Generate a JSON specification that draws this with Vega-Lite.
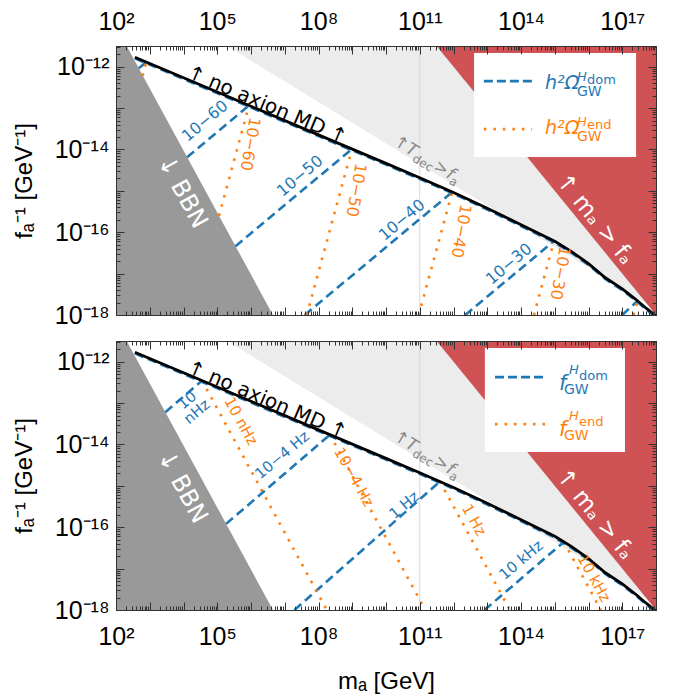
{
"$schema":"https://vega.github.io/schema/vega-lite/v6.json",
"padding":{"left":11,"top":4,"right":5,"bottom":5},
"spacing":0,
"config":{"view":{"stroke":"#333","strokeWidth":1},
"axis":{"domainColor":"#333","tickColor":"#333","tickWidth":1,"labelFont":"Liberation Sans Narrow, Liberation Sans","labelFontSize":25,"labelColor":"black","titleFont":"Liberation Sans","titleFontSize":24,"titleFontWeight":"normal","titleColor":"black","grid":false,"minExtent":0},
"text":{"font":"DejaVu Sans"}},
"datasets":{
"bbn":[{"m":100,"f":9.44e-12},{"m":4.467e6,"f":1e-18}],
"tdec":[{"m":1.95e5,"f":3.1623e-12},{"m":1e18,"f":1.396e-18}],
"mafa":[{"m":3.1623e11,"f":3.1623e-12},{"m":1e18,"f":1e-18}],
"vline":[{"m":1e11}],
"md":[{"m":363.1,"f":1.698e-12},{"m":1e4,"f":5.41e-13},{"m":1e6,"f":1.104e-13},{"m":1e8,"f":2.254e-14},{"m":1e10,"f":4.603e-15},{"m":1e11,"f":2.08e-15},{"m":1e12,"f":9.12e-16},{"m":1e13,"f":3.8e-16},{"m":1e14,"f":1.514e-16},{"m":1e15,"f":6.03e-17},{"m":3.162e15,"f":3.39e-17},{"m":1e16,"f":1.738e-17},{"m":3.162e16,"f":7.94e-18},{"m":1e17,"f":4.27e-18},{"m":2.512e17,"f":2.4e-18},{"m":5.012e17,"f":1.479e-18},{"m":7.943e17,"f":1.096e-18},{"m":1e18,"f":9.33e-19}],
"fringe":[{"m":363.1,"f":1.584e-12},{"m":1e4,"f":5.05e-13},{"m":1e6,"f":1.03e-13},{"m":1e8,"f":2.103e-14},{"m":1e10,"f":4.295e-15},{"m":1e11,"f":1.941e-15},{"m":1e12,"f":8.51e-16},{"m":1e13,"f":3.545e-16},{"m":1e14,"f":1.413e-16},{"m":1e15,"f":5.63e-17},{"m":3.162e15,"f":3.163e-17},{"m":1e16,"f":1.622e-17},{"m":3.162e16,"f":7.41e-18},{"m":1e17,"f":3.98e-18},{"m":2.512e17,"f":2.24e-18},{"m":5.012e17,"f":1.38e-18},{"m":7.943e17,"f":1.023e-18}],
"cont":[
{"p":"O","k":"dom","c":"a","m":474.2,"f":9.12e-13},{"p":"O","k":"dom","c":"a","m":794.3,"f":1.297e-12},
{"p":"O","k":"end","c":"a","m":616.6,"f":6.03e-13},{"p":"O","k":"end","c":"a","m":794.3,"f":1.297e-12},
{"p":"O","k":"dom","c":"b","m":1.279e4,"f":6.5e-15},{"p":"O","k":"dom","c":"b","m":8.71e5,"f":1.148e-13},
{"p":"O","k":"end","c":"b","m":1.127e5,"f":2.49e-16},{"p":"O","k":"end","c":"b","m":8.71e5,"f":1.148e-13},
{"p":"O","k":"dom","c":"c","m":3.467e5,"f":4.61e-17},{"p":"O","k":"dom","c":"c","m":9.772e8,"f":1.023e-14},
{"p":"O","k":"end","c":"c","m":4.498e7,"f":1e-18},{"p":"O","k":"end","c":"c","m":9.772e8,"f":1.023e-14},
{"p":"O","k":"dom","c":"d","m":3.908e7,"f":1e-18},{"p":"O","k":"dom","c":"d","m":9.12e11,"f":9.33e-16},
{"p":"O","k":"end","c":"d","m":9.33e10,"f":1e-18},{"p":"O","k":"end","c":"d","m":9.12e11,"f":9.33e-16},
{"p":"O","k":"dom","c":"e","m":2.228e12,"f":1e-18},{"p":"O","k":"dom","c":"e","m":9.55e14,"f":6.17e-17},
{"p":"O","k":"end","c":"e","m":2.415e14,"f":1e-18},{"p":"O","k":"end","c":"e","m":9.55e14,"f":6.17e-17},
{"p":"O","k":"dom","c":"f","m":1e17,"f":1e-18},{"p":"O","k":"dom","c":"f","m":2.818e17,"f":2.188e-18},
{"p":"O","k":"end","c":"f","m":2.173e17,"f":1e-18},{"p":"O","k":"end","c":"f","m":2.818e17,"f":2.188e-18},
{"p":"F","k":"dom","c":"a","m":2897,"f":6.04e-14},{"p":"F","k":"dom","c":"a","m":3.548e4,"f":3.49e-13},
{"p":"F","k":"end","c":"a","m":3.548e4,"f":3.49e-13},{"p":"F","k":"end","c":"a","m":1.758e8,"f":1e-18},
{"p":"F","k":"dom","c":"b","m":1.828e5,"f":1.205e-16},{"p":"F","k":"dom","c":"b","m":2.188e8,"f":1.722e-14},
{"p":"F","k":"end","c":"b","m":2.188e8,"f":1.722e-14},{"p":"F","k":"end","c":"b","m":1.459e11,"f":1e-18},
{"p":"F","k":"dom","c":"c","m":1.94e7,"f":1e-18},{"p":"F","k":"dom","c":"c","m":3.981e11,"f":1.274e-15},
{"p":"F","k":"end","c":"c","m":3.981e11,"f":1.274e-15},{"p":"F","k":"end","c":"c","m":4.677e13,"f":1e-18},
{"p":"F","k":"dom","c":"d","m":8.318e12,"f":1e-18},{"p":"F","k":"dom","c":"d","m":1.862e15,"f":4.42e-17},
{"p":"F","k":"end","c":"d","m":1.862e15,"f":4.42e-17},{"p":"F","k":"end","c":"d","m":2.328e16,"f":1e-18}],
"lab":[
{"role":"bO","m":4.335e4,"f":4.853e-14,"t":"10−60"},
{"role":"bO","m":2.831e7,"f":2.275e-15,"t":"10−50"},
{"role":"bO","m":2.979e10,"f":1.972e-16,"t":"10−40"},
{"role":"bO","m":4.406e13,"f":1.706e-17,"t":"10−30"},
{"role":"oO","m":9.333e5,"f":1.349e-14,"t":"10−60"},
{"role":"oO","m":1.291e9,"f":1.045e-15,"t":"10−50"},
{"role":"oO","m":1.667e12,"f":1.069e-16,"t":"10−40"},
{"role":"oO","m":1.432e15,"f":1.033e-17,"t":"10−30"},
{"role":"bF","m":1.27e4,"f":1.18e-13,"t":"10\nnHz"},
{"role":"oF","m":5.058e5,"f":3.673e-14,"t":"10 nHz"},
{"role":"bF","m":8.299e6,"f":5.546e-15,"t":"10−4 Hz"},
{"role":"oF","m":1.127e9,"f":1.633e-15,"t":"10−4 Hz"},
{"role":"bF","m":3.412e10,"f":3.436e-16,"t":"1 Hz"},
{"role":"oF","m":4.046e12,"f":1.493e-16,"t":"1 Hz"},
{"role":"bF","m":1e14,"f":1.614e-17,"t":"10 kHz"},
{"role":"oF","m":1.455e16,"f":5.93e-18,"t":"10 kHz"}],
"ann":[
{"role":"md","m":2.979e6,"f":1.175e-13,"t":"↑ no axion MD ↑"},
{"role":"bbn","m":9036,"f":9.35e-16,"t":"↓ BBN"},
{"role":"mafa","m":1.56e16,"f":2.084e-16,"t":"↑ mₐ > fₐ"},
{"role":"td","m":1.849e10,"f":1.687e-14,"t1":"↑T","t2":"dec","t3":">","t4":"f","t5":"a"}],
"legbox":[{"p":"O","m":4.074e12,"m2":2.57e17,"f":2.138e-12,"f2":6.607e-15},{"p":"F","m":8.511e12,"m2":1.202e17,"f":2.133e-12,"f2":6.546e-15}],
"legline":[{"p":"O","k":"dom","m":7.943e12,"f":4.467e-13},{"p":"O","k":"dom","m":2.138e14,"f":4.467e-13},{"p":"O","k":"end","m":7.943e12,"f":3.112e-14},{"p":"O","k":"end","m":2.138e14,"f":3.112e-14},{"p":"F","k":"dom","m":1.698e13,"f":4.246e-13},{"p":"F","k":"dom","m":5.129e14,"f":4.246e-13},{"p":"F","k":"end","m":1.698e13,"f":3.112e-14},{"p":"F","k":"end","m":5.129e14,"f":3.112e-14}],
"legtext":[{"p":"O","k":"dom","m":5.14e14,"f":2.877e-13,"a":"h²Ω","b":"H","c":"dom","d":"GW"},{"p":"O","k":"end","m":5.14e14,"f":2.355e-14,"a":"h²Ω","b":"H","c":"end","d":"GW"},{"p":"F","k":"dom","m":1.337e15,"f":2.061e-13,"a":"f","b":"H","c":"dom","d":"GW"},{"p":"F","k":"end","m":1.337e15,"f":1.596e-14,"a":"f","b":"H","c":"end","d":"GW"}]
},
"vconcat":[
{"width":540,"height":269,
"resolve":{"axis":{"x":"independent","y":"independent"}},
"layer":[
{"data":{"name":"tdec"},"mark":{"type":"area","color":"#ececec","clip":true},
"encoding":{"x":{"field":"m","type":"quantitative","scale":{"type":"log","domain":[100,1e18],"nice":false},"axis":{"orient":"top","zindex":1,"tickCount":50,"labelExpr":"datum.value == 100 ? '10²' : datum.value == 1e5 ? '10⁵' : datum.value == 1e8 ? '10⁸' : datum.value == 1e11 ? '10¹¹' : datum.value == 1e14 ? '10¹⁴' : datum.value == 1e17 ? '10¹⁷' : ''","labelOverlap":false,"labelFlush":false,"tickSize":{"condition":{"test":"abs(log(datum.value)/LN10 - round(log(datum.value)/LN10)) < 1e-6","value":-8},"value":-4},"labelPadding":20,"title":null}},
"y":{"field":"f","type":"quantitative","scale":{"type":"log","domain":[1e-18,3.1623e-12],"nice":false},"axis":{"orient":"left","zindex":1,"tickCount":50,"labelExpr":"abs(datum.value/1e-12-1) < 1e-6 ? '10⁻¹²' : abs(datum.value/1e-14-1) < 1e-6 ? '10⁻¹⁴' : abs(datum.value/1e-16-1) < 1e-6 ? '10⁻¹⁶' : abs(datum.value/1e-18-1) < 1e-6 ? '10⁻¹⁸' : ''","labelOverlap":false,"tickSize":{"condition":{"test":"abs(log(datum.value)/LN10 - round(log(datum.value)/LN10)) < 1e-6","value":-8},"value":-4},"labelPadding":15,"title":"fₐ⁻¹ [GeV⁻¹]","titlePadding":18}},
"y2":{"datum":3.1623e-12}}},
{"data":{"name":"mafa"},"mark":{"type":"area","color":"#cf5355","clip":true},
"encoding":{"x":{"field":"m","type":"quantitative","scale":{"type":"log","domain":[100,1e18],"nice":false},"axis":{"orient":"bottom","zindex":1,"tickCount":50,"labels":false,"tickSize":{"condition":{"test":"abs(log(datum.value)/LN10 - round(log(datum.value)/LN10)) < 1e-6","value":-8},"value":-4},"title":null}},
"y":{"field":"f","type":"quantitative","scale":{"type":"log","domain":[1e-18,3.1623e-12],"nice":false},"axis":{"orient":"right","zindex":1,"tickCount":50,"labels":false,"tickSize":{"condition":{"test":"abs(log(datum.value)/LN10 - round(log(datum.value)/LN10)) < 1e-6","value":-8},"value":-4},"title":null}},
"y2":{"datum":3.1623e-12}}},
{"data":{"name":"bbn"},"mark":{"type":"area","color":"#999999","clip":true},
"encoding":{"x":{"field":"m","type":"quantitative","scale":{"type":"log","domain":[100,1e18],"nice":false},"axis":null},"y":{"field":"f","type":"quantitative","scale":{"type":"log","domain":[1e-18,3.1623e-12],"nice":false},"axis":null},"y2":{"datum":1e-18}}},
{"data":{"name":"vline"},"mark":{"type":"rule","color":"#d8d8d8","strokeWidth":1},
"encoding":{"x":{"field":"m","type":"quantitative","scale":{"type":"log","domain":[100,1e18],"nice":false},"axis":null},"y":{"datum":1e-18,"type":"quantitative","scale":{"type":"log","domain":[1e-18,3.1623e-12],"nice":false},"axis":null},"y2":{"datum":3.1623e-12}}},
{"data":{"name":"cont"},"transform":[{"filter":"datum.p=='O' && datum.k=='dom'"}],"mark":{"type":"line","color":"#1f77b4","strokeWidth":2.6,"strokeDash":[9,5],"clip":true},
"encoding":{"x":{"field":"m","type":"quantitative","scale":{"type":"log","domain":[100,1e18],"nice":false},"axis":null},"y":{"field":"f","type":"quantitative","scale":{"type":"log","domain":[1e-18,3.1623e-12],"nice":false},"axis":null},"detail":{"field":"c","type":"nominal"}}},
{"data":{"name":"cont"},"transform":[{"filter":"datum.p=='O' && datum.k=='end'"}],"mark":{"type":"line","color":"#ff7f0e","strokeWidth":2.6,"strokeDash":[2.5,7],"clip":true},
"encoding":{"x":{"field":"m","type":"quantitative","scale":{"type":"log","domain":[100,1e18],"nice":false},"axis":null},"y":{"field":"f","type":"quantitative","scale":{"type":"log","domain":[1e-18,3.1623e-12],"nice":false},"axis":null},"detail":{"field":"c","type":"nominal"}}},
{"data":{"name":"fringe"},"mark":{"type":"line","color":"#1f77b4","strokeWidth":2.6,"strokeDash":[9,5],"clip":true},
"encoding":{"x":{"field":"m","type":"quantitative","scale":{"type":"log","domain":[100,1e18],"nice":false},"axis":null},"y":{"field":"f","type":"quantitative","scale":{"type":"log","domain":[1e-18,3.1623e-12],"nice":false},"axis":null}}},
{"data":{"name":"md"},"mark":{"type":"line","color":"black","strokeWidth":2.8,"clip":true},
"encoding":{"x":{"field":"m","type":"quantitative","scale":{"type":"log","domain":[100,1e18],"nice":false},"axis":null},"y":{"field":"f","type":"quantitative","scale":{"type":"log","domain":[1e-18,3.1623e-12],"nice":false},"axis":null}}},
{"data":{"name":"lab"},"transform":[{"filter":"datum.role=='bO'"}],"mark":{"type":"text","color":"#1f77b4","fontSize":16,"angle":320},
"encoding":{"x":{"field":"m","type":"quantitative","scale":{"type":"log","domain":[100,1e18],"nice":false},"axis":null},"y":{"field":"f","type":"quantitative","scale":{"type":"log","domain":[1e-18,3.1623e-12],"nice":false},"axis":null},"text":{"field":"t","type":"nominal"}}},
{"data":{"name":"lab"},"transform":[{"filter":"datum.role=='oO'"}],"mark":{"type":"text","color":"#ff7f0e","fontSize":16,"angle":100},
"encoding":{"x":{"field":"m","type":"quantitative","scale":{"type":"log","domain":[100,1e18],"nice":false},"axis":null},"y":{"field":"f","type":"quantitative","scale":{"type":"log","domain":[1e-18,3.1623e-12],"nice":false},"axis":null},"text":{"field":"t","type":"nominal"}}},
{"data":{"name":"ann"},"transform":[{"filter":"datum.role=='md'"}],"mark":{"type":"text","color":"black","fontSize":20,"angle":23},
"encoding":{"x":{"field":"m","type":"quantitative","scale":{"type":"log","domain":[100,1e18],"nice":false},"axis":null},"y":{"field":"f","type":"quantitative","scale":{"type":"log","domain":[1e-18,3.1623e-12],"nice":false},"axis":null},"text":{"field":"t","type":"nominal"}}},
{"data":{"name":"ann"},"transform":[{"filter":"datum.role=='bbn'"}],"mark":{"type":"text","color":"white","fontSize":24,"angle":61.5},
"encoding":{"x":{"field":"m","type":"quantitative","scale":{"type":"log","domain":[100,1e18],"nice":false},"axis":null},"y":{"field":"f","type":"quantitative","scale":{"type":"log","domain":[1e-18,3.1623e-12],"nice":false},"axis":null},"text":{"field":"t","type":"nominal"}}},
{"data":{"name":"ann"},"transform":[{"filter":"datum.role=='mafa'"}],"mark":{"type":"text","color":"white","fontSize":23,"angle":51},
"encoding":{"x":{"field":"m","type":"quantitative","scale":{"type":"log","domain":[100,1e18],"nice":false},"axis":null},"y":{"field":"f","type":"quantitative","scale":{"type":"log","domain":[1e-18,3.1623e-12],"nice":false},"axis":null},"text":{"field":"t","type":"nominal"}}},
{"data":{"name":"ann"},"transform":[{"filter":"datum.role=='td'"}],"mark":{"type":"text","color":"#888888","fontSize":17,"fontStyle":"italic","angle":31.5,"align":"left","baseline":"middle"},
"encoding":{"x":{"field":"m","type":"quantitative","scale":{"type":"log","domain":[100,1e18],"nice":false},"axis":null},"y":{"field":"f","type":"quantitative","scale":{"type":"log","domain":[1e-18,3.1623e-12],"nice":false},"axis":null},"text":{"field":"t1","type":"nominal"}}},
{"data":{"name":"ann"},"transform":[{"filter":"datum.role=='td'"}],"mark":{"type":"text","color":"#888888","fontSize":12,"angle":31.5,"align":"left","baseline":"middle","dx":25,"dy":5},
"encoding":{"x":{"field":"m","type":"quantitative","scale":{"type":"log","domain":[100,1e18],"nice":false},"axis":null},"y":{"field":"f","type":"quantitative","scale":{"type":"log","domain":[1e-18,3.1623e-12],"nice":false},"axis":null},"text":{"field":"t2","type":"nominal"}}},
{"data":{"name":"ann"},"transform":[{"filter":"datum.role=='td'"}],"mark":{"type":"text","color":"#888888","fontSize":17,"angle":31.5,"align":"left","baseline":"middle","dx":47},
"encoding":{"x":{"field":"m","type":"quantitative","scale":{"type":"log","domain":[100,1e18],"nice":false},"axis":null},"y":{"field":"f","type":"quantitative","scale":{"type":"log","domain":[1e-18,3.1623e-12],"nice":false},"axis":null},"text":{"field":"t3","type":"nominal"}}},
{"data":{"name":"ann"},"transform":[{"filter":"datum.role=='td'"}],"mark":{"type":"text","color":"#888888","fontSize":17,"fontStyle":"italic","angle":31.5,"align":"left","baseline":"middle","dx":62},
"encoding":{"x":{"field":"m","type":"quantitative","scale":{"type":"log","domain":[100,1e18],"nice":false},"axis":null},"y":{"field":"f","type":"quantitative","scale":{"type":"log","domain":[1e-18,3.1623e-12],"nice":false},"axis":null},"text":{"field":"t4","type":"nominal"}}},
{"data":{"name":"ann"},"transform":[{"filter":"datum.role=='td'"}],"mark":{"type":"text","color":"#888888","fontSize":12,"angle":31.5,"align":"left","baseline":"middle","dx":68,"dy":5},
"encoding":{"x":{"field":"m","type":"quantitative","scale":{"type":"log","domain":[100,1e18],"nice":false},"axis":null},"y":{"field":"f","type":"quantitative","scale":{"type":"log","domain":[1e-18,3.1623e-12],"nice":false},"axis":null},"text":{"field":"t5","type":"nominal"}}},
{"data":{"name":"legbox"},"transform":[{"filter":"datum.p=='O'"}],"mark":{"type":"rect","color":"white"},
"encoding":{"x":{"field":"m","type":"quantitative","scale":{"type":"log","domain":[100,1e18],"nice":false},"axis":null},"x2":{"field":"m2"},"y":{"field":"f","type":"quantitative","scale":{"type":"log","domain":[1e-18,3.1623e-12],"nice":false},"axis":null},"y2":{"field":"f2"}}},
{"data":{"name":"legline"},"transform":[{"filter":"datum.p=='O' && datum.k=='dom'"}],"mark":{"type":"line","color":"#1f77b4","strokeWidth":2.8,"strokeDash":[9,4]},
"encoding":{"x":{"field":"m","type":"quantitative","scale":{"type":"log","domain":[100,1e18],"nice":false},"axis":null},"y":{"field":"f","type":"quantitative","scale":{"type":"log","domain":[1e-18,3.1623e-12],"nice":false},"axis":null}}},
{"data":{"name":"legline"},"transform":[{"filter":"datum.p=='O' && datum.k=='end'"}],"mark":{"type":"line","color":"#ff7f0e","strokeWidth":2.8,"strokeDash":[2.5,7]},
"encoding":{"x":{"field":"m","type":"quantitative","scale":{"type":"log","domain":[100,1e18],"nice":false},"axis":null},"y":{"field":"f","type":"quantitative","scale":{"type":"log","domain":[1e-18,3.1623e-12],"nice":false},"axis":null}}},
{"data":{"name":"legtext"},"transform":[{"filter":"datum.p=='O'"}],"mark":{"type":"text","fontSize":19,"fontStyle":"italic","align":"left","baseline":"alphabetic"},
"encoding":{"x":{"field":"m","type":"quantitative","scale":{"type":"log","domain":[100,1e18],"nice":false},"axis":null},"y":{"field":"f","type":"quantitative","scale":{"type":"log","domain":[1e-18,3.1623e-12],"nice":false},"axis":null},"text":{"field":"a","type":"nominal"},"color":{"field":"k","type":"nominal","scale":{"domain":["dom","end"],"range":["#1f77b4","#ff7f0e"]},"legend":null}}},
{"data":{"name":"legtext"},"transform":[{"filter":"datum.p=='O'"}],"mark":{"type":"text","fontSize":13,"fontStyle":"italic","align":"left","baseline":"alphabetic","dx":32,"dy":-8},
"encoding":{"x":{"field":"m","type":"quantitative","scale":{"type":"log","domain":[100,1e18],"nice":false},"axis":null},"y":{"field":"f","type":"quantitative","scale":{"type":"log","domain":[1e-18,3.1623e-12],"nice":false},"axis":null},"text":{"field":"b","type":"nominal"},"color":{"field":"k","type":"nominal","scale":{"domain":["dom","end"],"range":["#1f77b4","#ff7f0e"]},"legend":null}}},
{"data":{"name":"legtext"},"transform":[{"filter":"datum.p=='O'"}],"mark":{"type":"text","fontSize":13,"align":"left","baseline":"alphabetic","dx":42,"dy":-5},
"encoding":{"x":{"field":"m","type":"quantitative","scale":{"type":"log","domain":[100,1e18],"nice":false},"axis":null},"y":{"field":"f","type":"quantitative","scale":{"type":"log","domain":[1e-18,3.1623e-12],"nice":false},"axis":null},"text":{"field":"c","type":"nominal"},"color":{"field":"k","type":"nominal","scale":{"domain":["dom","end"],"range":["#1f77b4","#ff7f0e"]},"legend":null}}},
{"data":{"name":"legtext"},"transform":[{"filter":"datum.p=='O'"}],"mark":{"type":"text","fontSize":14,"align":"left","baseline":"alphabetic","dx":32,"dy":7},
"encoding":{"x":{"field":"m","type":"quantitative","scale":{"type":"log","domain":[100,1e18],"nice":false},"axis":null},"y":{"field":"f","type":"quantitative","scale":{"type":"log","domain":[1e-18,3.1623e-12],"nice":false},"axis":null},"text":{"field":"d","type":"nominal"},"color":{"field":"k","type":"nominal","scale":{"domain":["dom","end"],"range":["#1f77b4","#ff7f0e"]},"legend":null}}}
]},
{"width":540,"height":269,
"resolve":{"axis":{"x":"independent","y":"independent"}},
"layer":[
{"data":{"name":"tdec"},"mark":{"type":"area","color":"#ececec","clip":true},
"encoding":{"x":{"field":"m","type":"quantitative","scale":{"type":"log","domain":[100,1e18],"nice":false},"axis":{"orient":"top","zindex":1,"tickCount":50,"labels":false,"tickSize":{"condition":{"test":"abs(log(datum.value)/LN10 - round(log(datum.value)/LN10)) < 1e-6","value":-8},"value":-4},"title":null}},
"y":{"field":"f","type":"quantitative","scale":{"type":"log","domain":[1e-18,3.1623e-12],"nice":false},"axis":{"orient":"left","zindex":1,"tickCount":50,"labelExpr":"abs(datum.value/1e-12-1) < 1e-6 ? '10⁻¹²' : abs(datum.value/1e-14-1) < 1e-6 ? '10⁻¹⁴' : abs(datum.value/1e-16-1) < 1e-6 ? '10⁻¹⁶' : abs(datum.value/1e-18-1) < 1e-6 ? '10⁻¹⁸' : ''","labelOverlap":false,"tickSize":{"condition":{"test":"abs(log(datum.value)/LN10 - round(log(datum.value)/LN10)) < 1e-6","value":-8},"value":-4},"labelPadding":15,"title":"fₐ⁻¹ [GeV⁻¹]","titlePadding":18}},
"y2":{"datum":3.1623e-12}}},
{"data":{"name":"mafa"},"mark":{"type":"area","color":"#cf5355","clip":true},
"encoding":{"x":{"field":"m","type":"quantitative","scale":{"type":"log","domain":[100,1e18],"nice":false},"axis":{"orient":"bottom","zindex":1,"tickCount":50,"labelExpr":"datum.value == 100 ? '10²' : datum.value == 1e5 ? '10⁵' : datum.value == 1e8 ? '10⁸' : datum.value == 1e11 ? '10¹¹' : datum.value == 1e14 ? '10¹⁴' : datum.value == 1e17 ? '10¹⁷' : ''","labelOverlap":false,"labelFlush":false,"tickSize":{"condition":{"test":"abs(log(datum.value)/LN10 - round(log(datum.value)/LN10)) < 1e-6","value":-8},"value":-4},"labelPadding":22,"title":"mₐ [GeV]","titlePadding":16}},
"y":{"field":"f","type":"quantitative","scale":{"type":"log","domain":[1e-18,3.1623e-12],"nice":false},"axis":{"orient":"right","zindex":1,"tickCount":50,"labels":false,"tickSize":{"condition":{"test":"abs(log(datum.value)/LN10 - round(log(datum.value)/LN10)) < 1e-6","value":-8},"value":-4},"title":null}},
"y2":{"datum":3.1623e-12}}},
{"data":{"name":"bbn"},"mark":{"type":"area","color":"#999999","clip":true},
"encoding":{"x":{"field":"m","type":"quantitative","scale":{"type":"log","domain":[100,1e18],"nice":false},"axis":null},"y":{"field":"f","type":"quantitative","scale":{"type":"log","domain":[1e-18,3.1623e-12],"nice":false},"axis":null},"y2":{"datum":1e-18}}},
{"data":{"name":"vline"},"mark":{"type":"rule","color":"#d8d8d8","strokeWidth":1},
"encoding":{"x":{"field":"m","type":"quantitative","scale":{"type":"log","domain":[100,1e18],"nice":false},"axis":null},"y":{"datum":1e-18,"type":"quantitative","scale":{"type":"log","domain":[1e-18,3.1623e-12],"nice":false},"axis":null},"y2":{"datum":3.1623e-12}}},
{"data":{"name":"cont"},"transform":[{"filter":"datum.p=='F' && datum.k=='dom'"}],"mark":{"type":"line","color":"#1f77b4","strokeWidth":2.6,"strokeDash":[9,5],"clip":true},
"encoding":{"x":{"field":"m","type":"quantitative","scale":{"type":"log","domain":[100,1e18],"nice":false},"axis":null},"y":{"field":"f","type":"quantitative","scale":{"type":"log","domain":[1e-18,3.1623e-12],"nice":false},"axis":null},"detail":{"field":"c","type":"nominal"}}},
{"data":{"name":"cont"},"transform":[{"filter":"datum.p=='F' && datum.k=='end'"}],"mark":{"type":"line","color":"#ff7f0e","strokeWidth":2.6,"strokeDash":[2.5,7],"clip":true},
"encoding":{"x":{"field":"m","type":"quantitative","scale":{"type":"log","domain":[100,1e18],"nice":false},"axis":null},"y":{"field":"f","type":"quantitative","scale":{"type":"log","domain":[1e-18,3.1623e-12],"nice":false},"axis":null},"detail":{"field":"c","type":"nominal"}}},
{"data":{"name":"fringe"},"mark":{"type":"line","color":"#1f77b4","strokeWidth":2.6,"strokeDash":[9,5],"clip":true},
"encoding":{"x":{"field":"m","type":"quantitative","scale":{"type":"log","domain":[100,1e18],"nice":false},"axis":null},"y":{"field":"f","type":"quantitative","scale":{"type":"log","domain":[1e-18,3.1623e-12],"nice":false},"axis":null}}},
{"data":{"name":"md"},"mark":{"type":"line","color":"black","strokeWidth":2.8,"clip":true},
"encoding":{"x":{"field":"m","type":"quantitative","scale":{"type":"log","domain":[100,1e18],"nice":false},"axis":null},"y":{"field":"f","type":"quantitative","scale":{"type":"log","domain":[1e-18,3.1623e-12],"nice":false},"axis":null}}},
{"data":{"name":"lab"},"transform":[{"filter":"datum.role=='bF'"}],"mark":{"type":"text","color":"#1f77b4","fontSize":15,"angle":320,"lineBreak":"\n","lineHeight":15},
"encoding":{"x":{"field":"m","type":"quantitative","scale":{"type":"log","domain":[100,1e18],"nice":false},"axis":null},"y":{"field":"f","type":"quantitative","scale":{"type":"log","domain":[1e-18,3.1623e-12],"nice":false},"axis":null},"text":{"field":"t","type":"nominal"}}},
{"data":{"name":"lab"},"transform":[{"filter":"datum.role=='oF'"}],"mark":{"type":"text","color":"#ff7f0e","fontSize":15,"angle":61},
"encoding":{"x":{"field":"m","type":"quantitative","scale":{"type":"log","domain":[100,1e18],"nice":false},"axis":null},"y":{"field":"f","type":"quantitative","scale":{"type":"log","domain":[1e-18,3.1623e-12],"nice":false},"axis":null},"text":{"field":"t","type":"nominal"}}},
{"data":{"name":"ann"},"transform":[{"filter":"datum.role=='md'"}],"mark":{"type":"text","color":"black","fontSize":20,"angle":23},
"encoding":{"x":{"field":"m","type":"quantitative","scale":{"type":"log","domain":[100,1e18],"nice":false},"axis":null},"y":{"field":"f","type":"quantitative","scale":{"type":"log","domain":[1e-18,3.1623e-12],"nice":false},"axis":null},"text":{"field":"t","type":"nominal"}}},
{"data":{"name":"ann"},"transform":[{"filter":"datum.role=='bbn'"}],"mark":{"type":"text","color":"white","fontSize":24,"angle":61.5},
"encoding":{"x":{"field":"m","type":"quantitative","scale":{"type":"log","domain":[100,1e18],"nice":false},"axis":null},"y":{"field":"f","type":"quantitative","scale":{"type":"log","domain":[1e-18,3.1623e-12],"nice":false},"axis":null},"text":{"field":"t","type":"nominal"}}},
{"data":{"name":"ann"},"transform":[{"filter":"datum.role=='mafa'"}],"mark":{"type":"text","color":"white","fontSize":23,"angle":51},
"encoding":{"x":{"field":"m","type":"quantitative","scale":{"type":"log","domain":[100,1e18],"nice":false},"axis":null},"y":{"field":"f","type":"quantitative","scale":{"type":"log","domain":[1e-18,3.1623e-12],"nice":false},"axis":null},"text":{"field":"t","type":"nominal"}}},
{"data":{"name":"ann"},"transform":[{"filter":"datum.role=='td'"}],"mark":{"type":"text","color":"#888888","fontSize":17,"fontStyle":"italic","angle":31.5,"align":"left","baseline":"middle"},
"encoding":{"x":{"field":"m","type":"quantitative","scale":{"type":"log","domain":[100,1e18],"nice":false},"axis":null},"y":{"field":"f","type":"quantitative","scale":{"type":"log","domain":[1e-18,3.1623e-12],"nice":false},"axis":null},"text":{"field":"t1","type":"nominal"}}},
{"data":{"name":"ann"},"transform":[{"filter":"datum.role=='td'"}],"mark":{"type":"text","color":"#888888","fontSize":12,"angle":31.5,"align":"left","baseline":"middle","dx":25,"dy":5},
"encoding":{"x":{"field":"m","type":"quantitative","scale":{"type":"log","domain":[100,1e18],"nice":false},"axis":null},"y":{"field":"f","type":"quantitative","scale":{"type":"log","domain":[1e-18,3.1623e-12],"nice":false},"axis":null},"text":{"field":"t2","type":"nominal"}}},
{"data":{"name":"ann"},"transform":[{"filter":"datum.role=='td'"}],"mark":{"type":"text","color":"#888888","fontSize":17,"angle":31.5,"align":"left","baseline":"middle","dx":47},
"encoding":{"x":{"field":"m","type":"quantitative","scale":{"type":"log","domain":[100,1e18],"nice":false},"axis":null},"y":{"field":"f","type":"quantitative","scale":{"type":"log","domain":[1e-18,3.1623e-12],"nice":false},"axis":null},"text":{"field":"t3","type":"nominal"}}},
{"data":{"name":"ann"},"transform":[{"filter":"datum.role=='td'"}],"mark":{"type":"text","color":"#888888","fontSize":17,"fontStyle":"italic","angle":31.5,"align":"left","baseline":"middle","dx":62},
"encoding":{"x":{"field":"m","type":"quantitative","scale":{"type":"log","domain":[100,1e18],"nice":false},"axis":null},"y":{"field":"f","type":"quantitative","scale":{"type":"log","domain":[1e-18,3.1623e-12],"nice":false},"axis":null},"text":{"field":"t4","type":"nominal"}}},
{"data":{"name":"ann"},"transform":[{"filter":"datum.role=='td'"}],"mark":{"type":"text","color":"#888888","fontSize":12,"angle":31.5,"align":"left","baseline":"middle","dx":68,"dy":5},
"encoding":{"x":{"field":"m","type":"quantitative","scale":{"type":"log","domain":[100,1e18],"nice":false},"axis":null},"y":{"field":"f","type":"quantitative","scale":{"type":"log","domain":[1e-18,3.1623e-12],"nice":false},"axis":null},"text":{"field":"t5","type":"nominal"}}},
{"data":{"name":"legbox"},"transform":[{"filter":"datum.p=='F'"}],"mark":{"type":"rect","color":"white"},
"encoding":{"x":{"field":"m","type":"quantitative","scale":{"type":"log","domain":[100,1e18],"nice":false},"axis":null},"x2":{"field":"m2"},"y":{"field":"f","type":"quantitative","scale":{"type":"log","domain":[1e-18,3.1623e-12],"nice":false},"axis":null},"y2":{"field":"f2"}}},
{"data":{"name":"legline"},"transform":[{"filter":"datum.p=='F' && datum.k=='dom'"}],"mark":{"type":"line","color":"#1f77b4","strokeWidth":2.8,"strokeDash":[9,4]},
"encoding":{"x":{"field":"m","type":"quantitative","scale":{"type":"log","domain":[100,1e18],"nice":false},"axis":null},"y":{"field":"f","type":"quantitative","scale":{"type":"log","domain":[1e-18,3.1623e-12],"nice":false},"axis":null}}},
{"data":{"name":"legline"},"transform":[{"filter":"datum.p=='F' && datum.k=='end'"}],"mark":{"type":"line","color":"#ff7f0e","strokeWidth":2.8,"strokeDash":[2.5,7]},
"encoding":{"x":{"field":"m","type":"quantitative","scale":{"type":"log","domain":[100,1e18],"nice":false},"axis":null},"y":{"field":"f","type":"quantitative","scale":{"type":"log","domain":[1e-18,3.1623e-12],"nice":false},"axis":null}}},
{"data":{"name":"legtext"},"transform":[{"filter":"datum.p=='F'"}],"mark":{"type":"text","fontSize":21,"fontStyle":"italic","align":"left","baseline":"alphabetic"},
"encoding":{"x":{"field":"m","type":"quantitative","scale":{"type":"log","domain":[100,1e18],"nice":false},"axis":null},"y":{"field":"f","type":"quantitative","scale":{"type":"log","domain":[1e-18,3.1623e-12],"nice":false},"axis":null},"text":{"field":"a","type":"nominal"},"color":{"field":"k","type":"nominal","scale":{"domain":["dom","end"],"range":["#1f77b4","#ff7f0e"]},"legend":null}}},
{"data":{"name":"legtext"},"transform":[{"filter":"datum.p=='F'"}],"mark":{"type":"text","fontSize":13,"fontStyle":"italic","align":"left","baseline":"alphabetic","dx":10,"dy":-16},
"encoding":{"x":{"field":"m","type":"quantitative","scale":{"type":"log","domain":[100,1e18],"nice":false},"axis":null},"y":{"field":"f","type":"quantitative","scale":{"type":"log","domain":[1e-18,3.1623e-12],"nice":false},"axis":null},"text":{"field":"b","type":"nominal"},"color":{"field":"k","type":"nominal","scale":{"domain":["dom","end"],"range":["#1f77b4","#ff7f0e"]},"legend":null}}},
{"data":{"name":"legtext"},"transform":[{"filter":"datum.p=='F'"}],"mark":{"type":"text","fontSize":13,"align":"left","baseline":"alphabetic","dx":20,"dy":-10},
"encoding":{"x":{"field":"m","type":"quantitative","scale":{"type":"log","domain":[100,1e18],"nice":false},"axis":null},"y":{"field":"f","type":"quantitative","scale":{"type":"log","domain":[1e-18,3.1623e-12],"nice":false},"axis":null},"text":{"field":"c","type":"nominal"},"color":{"field":"k","type":"nominal","scale":{"domain":["dom","end"],"range":["#1f77b4","#ff7f0e"]},"legend":null}}},
{"data":{"name":"legtext"},"transform":[{"filter":"datum.p=='F'"}],"mark":{"type":"text","fontSize":14,"align":"left","baseline":"alphabetic","dx":5,"dy":4},
"encoding":{"x":{"field":"m","type":"quantitative","scale":{"type":"log","domain":[100,1e18],"nice":false},"axis":null},"y":{"field":"f","type":"quantitative","scale":{"type":"log","domain":[1e-18,3.1623e-12],"nice":false},"axis":null},"text":{"field":"d","type":"nominal"},"color":{"field":"k","type":"nominal","scale":{"domain":["dom","end"],"range":["#1f77b4","#ff7f0e"]},"legend":null}}}
]}
]
}
